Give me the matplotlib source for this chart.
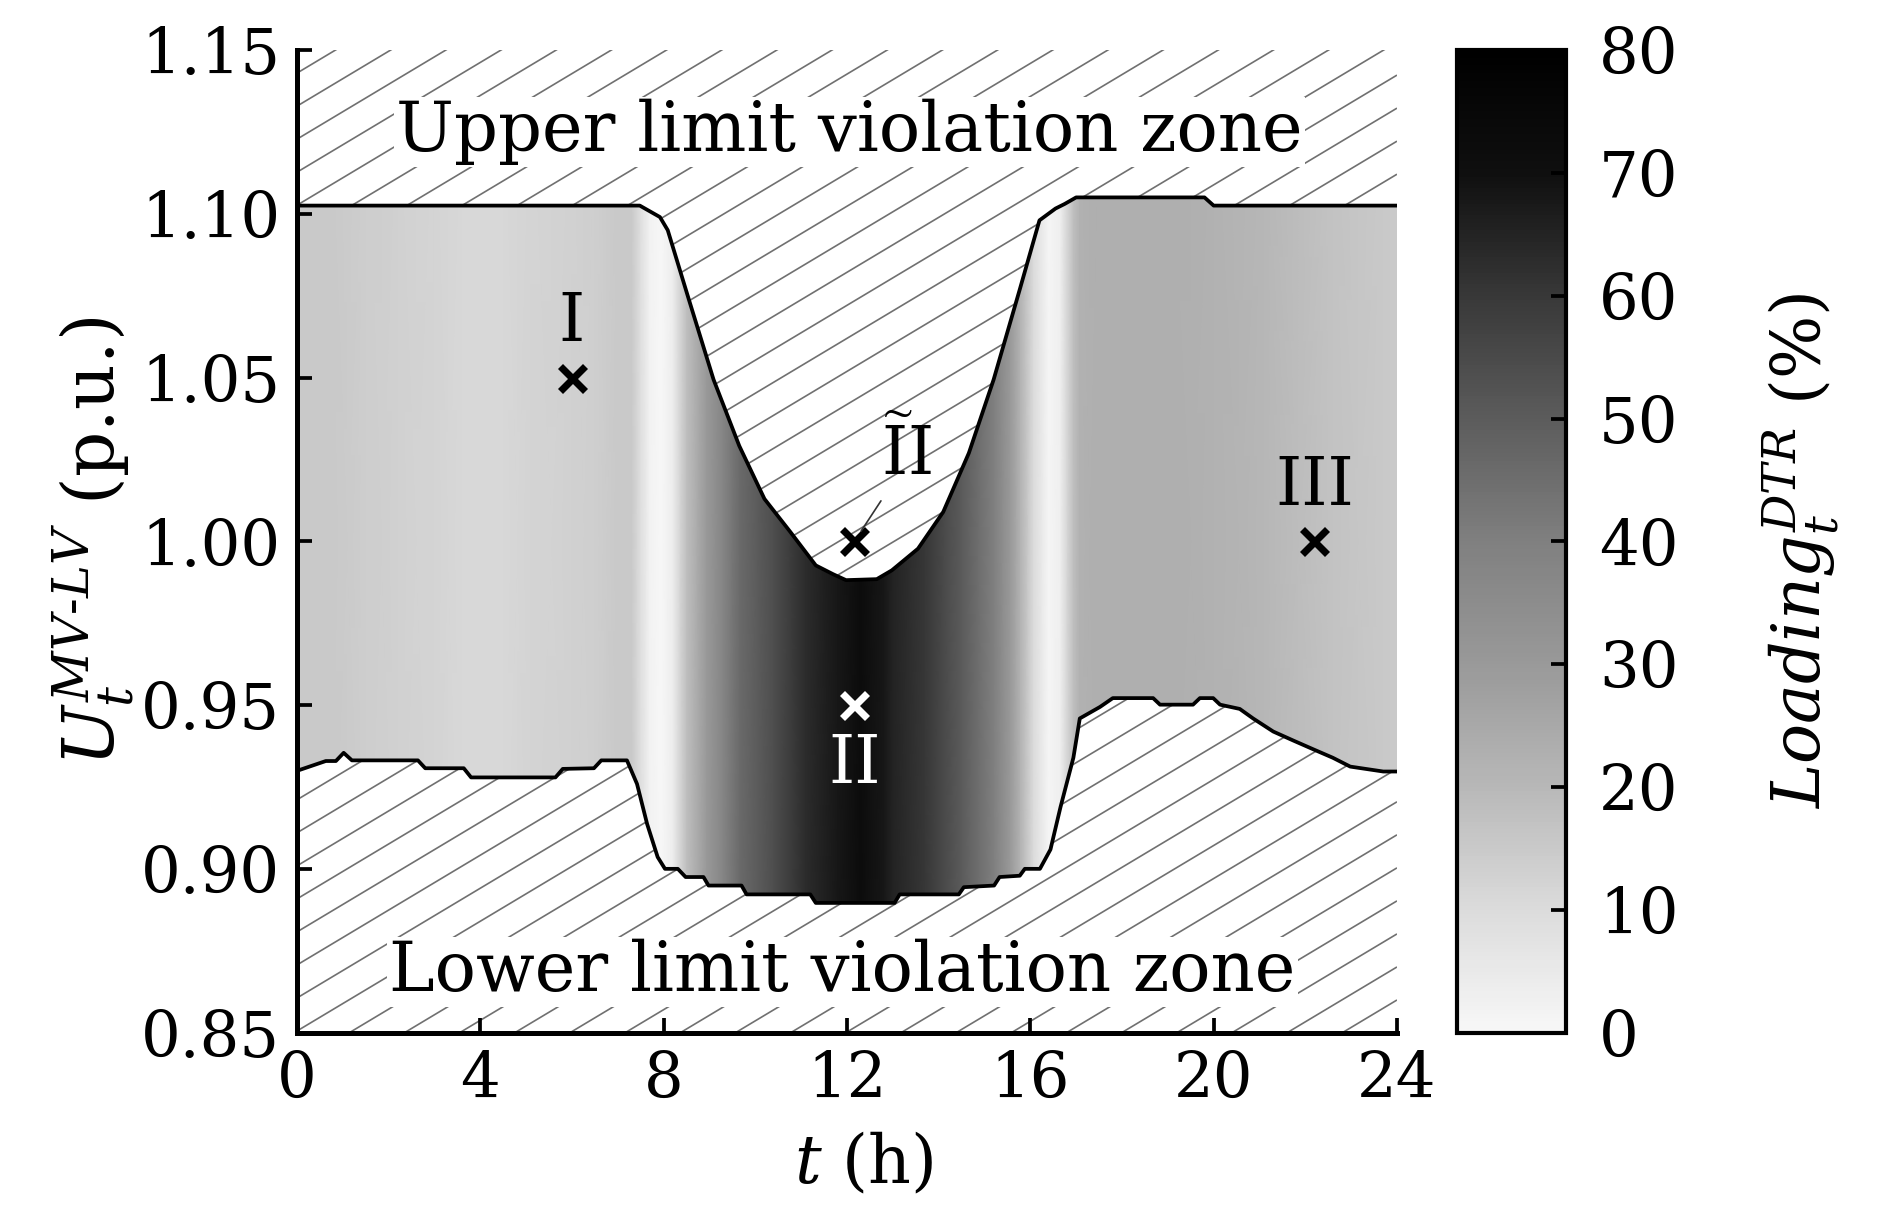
import numpy as np
import matplotlib
matplotlib.use("Agg")
import matplotlib.pyplot as plt
from matplotlib.colors import LinearSegmentedColormap
from matplotlib.patches import Polygon
from matplotlib.collections import LineCollection

plt.rcParams['font.family'] = ['DejaVu Serif']
plt.rcParams['mathtext.fontset'] = 'dejavuserif'

# upper voltage limit of the feasible band (p.u.)
upper_t = [0, 7.2, 7.48, 7.92, 8.09, 8.53, 9.09, 9.65, 10.2, 10.76, 11.32, 11.7, 11.98,
           12.65, 12.98, 13.55, 14.1, 14.66, 15.2, 15.77, 16.2, 16.55, 16.75, 17.0, 19.8, 20.0, 24]
upper_v = [1.1025, 1.1025, 1.1025, 1.099, 1.095, 1.0748, 1.0494, 1.0292, 1.013, 1.003, 0.9927, 0.990, 0.9882,
           0.9885, 0.9912, 0.9978, 1.009, 1.027, 1.0494, 1.0769, 1.098, 1.1016, 1.103, 1.105, 1.105, 1.1025, 1.1025]

# lower voltage limit of the feasible band (p.u.)
lower_t = [0, 0.63, 0.85, 1.02, 1.2, 1.3, 2.64, 2.8, 3.64, 3.8, 5.64, 5.8, 6.48, 6.64,
           7.2, 7.42, 7.64, 7.87, 8.03, 8.31, 8.48, 8.87, 8.98, 9.7, 9.81, 11.2, 11.32, 13.04,
           13.15, 14.44, 14.55, 15.21, 15.33, 15.77, 15.88, 16.21, 16.44, 16.66, 16.94, 17.08,
           17.52, 17.8, 18.68, 18.83, 19.55, 19.7, 19.99, 20.14, 20.57, 20.86, 21.3, 21.73,
           22.17, 22.6, 22.98, 23.7, 24]
lower_v = [0.930, 0.933, 0.933, 0.9355, 0.9332, 0.9332, 0.9332, 0.9308, 0.9308, 0.928, 0.928, 0.9306, 0.9308, 0.9332,
           0.9332, 0.926, 0.9138, 0.9037, 0.9001, 0.9001, 0.8976, 0.8976, 0.895, 0.895, 0.8923, 0.8923, 0.8897, 0.8897,
           0.8923, 0.8923, 0.8945, 0.895, 0.8976, 0.898, 0.9001, 0.9001, 0.906, 0.919, 0.934, 0.946,
           0.9495, 0.9522, 0.9522, 0.9502, 0.9502, 0.9522, 0.9522, 0.9502, 0.9489, 0.946, 0.942, 0.9393,
           0.9366, 0.934, 0.9313, 0.9298, 0.9298]

# DTR loading (%) along the day
load_t = [0.0, 0.7, 1.5, 2.2, 3.0, 3.6, 4.5, 5.1, 6.0, 6.5, 7.0, 7.3, 7.5, 7.7, 7.95, 8.2, 8.5,
          8.94, 9.3, 9.67, 10.4, 11.1, 11.8, 12.3, 12.8, 13.0, 13.7, 14.5, 15.2, 15.56, 15.78,
          16.07, 16.4, 16.65, 16.94, 17.08, 17.5, 19.0, 20.0, 21.1, 22.6, 23.7, 24.0]
load_v = [15, 15, 14, 13, 12, 11, 11, 12, 13, 13.5, 15, 15, 9, 2, 0, 4, 18,
          30, 38, 46, 54, 63, 68, 72, 68, 65, 60, 50, 40, 30, 22,
          10, 1, 3, 18, 22, 23, 23, 22, 20, 17, 15, 15]

# operating points
pts_t = [6.0, 12.16, 12.16, 22.2]
pts_v = [1.05, 1.00, 0.95, 1.00]
pts_c = ['black', 'black', 'white', 'black']

cbar_ticks = [0, 10, 20, 30, 40, 50, 60, 70, 80]

cmap = LinearSegmentedColormap.from_list(
    "load_gray",
    [(0.0, (0.97, 0.97, 0.97)), (0.125, (0.86, 0.86, 0.86)), (0.25, (0.72, 0.72, 0.72)),
     (0.375, (0.60, 0.60, 0.60)), (0.5, (0.50, 0.50, 0.50)), (0.625, (0.36, 0.36, 0.36)),
     (0.75, (0.22, 0.22, 0.22)), (0.875, (0.06, 0.06, 0.06)), (1.0, (0.0, 0.0, 0.0))])

fig = plt.figure(figsize=(6.28, 4.09), dpi=300)
ax = fig.add_axes([0.1576, 0.1581, 0.5839, 0.8012])
cax = fig.add_axes([0.7736, 0.1581, 0.0574, 0.8012])

ymin, ymax = 0.85, 1.15


def hatch_zone(zone, slope=0.67, step=0.0336, color='#707070', lw=0.4):
    # slanted hatch texture (axes-fraction units), clipped to a filled zone
    segs = [[(0, c), (1, c + slope)] for c in np.arange(-slope, 1 + step, step)]
    lc = LineCollection(segs, colors=color, linewidths=lw, transform=ax.transAxes, zorder=1)
    ax.add_collection(lc)
    lc.set_clip_path(zone.get_paths()[0], ax.transData)


# loading shading, clipped to the feasible band
band = np.vstack([np.column_stack([upper_t, upper_v]),
                  np.column_stack([lower_t, lower_v])[::-1]])
band_patch = Polygon(band, closed=True, facecolor='none', edgecolor='none')
ax.add_patch(band_patch)
mesh = ax.pcolormesh(load_t, [ymin, ymax], np.vstack([load_v, load_v]),
                     shading='gouraud', cmap=cmap, vmin=0, vmax=80, zorder=1)
mesh.set_clip_path(band_patch)

# violation zones
up_zone = ax.fill_between(upper_t, upper_v, ymax, facecolor='none', linewidth=0)
lo_zone = ax.fill_between(lower_t, ymin, lower_v, facecolor='none', linewidth=0)
hatch_zone(up_zone)
hatch_zone(lo_zone)
ax.plot(upper_t, upper_v, color='black', lw=0.9, zorder=3)
ax.plot(lower_t, lower_v, color='black', lw=0.9, zorder=3)

for t, v, c in zip(pts_t, pts_v, pts_c):
    ax.plot(t, v, marker='x', ms=6, mew=1.7, color=c, zorder=4)

ax.text(6.0, 1.057, 'I', ha='center', va='bottom', fontsize=16, zorder=5)
ax.text(22.2, 1.007, 'III', ha='center', va='bottom', fontsize=16, zorder=5)
ax.text(12.16, 0.942, 'II', ha='center', va='top', fontsize=16, color='white', zorder=5)
ax.annotate(r'$\widetilde{\mathrm{I}}\mathrm{I}$', xy=(12.16, 1.0), xytext=(13.3, 1.016),
            ha='center', va='bottom', fontsize=16, zorder=5,
            arrowprops=dict(arrowstyle='-', lw=0.4, color='#333333', shrinkA=1, shrinkB=3,
                            relpos=(0.15, 0.0)))

ax.text(12.05, 1.125, 'Upper limit violation zone', ha='center', va='center', fontsize=16.5,
        zorder=5, bbox=dict(facecolor='white', edgecolor='none', pad=0.5))
ax.text(11.9, 0.8686, 'Lower limit violation zone', ha='center', va='center', fontsize=16.5,
        zorder=5, bbox=dict(facecolor='white', edgecolor='none', pad=0.5))

ax.set_xlim(0, 24)
ax.set_ylim(ymin, ymax)
ax.set_xticks(range(0, 25, 4))
ax.set_yticks([0.85, 0.90, 0.95, 1.00, 1.05, 1.10, 1.15])
ax.set_yticklabels(['0.85', '0.90', '0.95', '1.00', '1.05', '1.10', '1.15'])
ax.tick_params(direction='in', length=3.5, width=0.9, labelsize=15, pad=4)
for s in ['top', 'right']:
    ax.spines[s].set_visible(False)
for s in ['left', 'bottom']:
    ax.spines[s].set_linewidth(1.2)

ax.set_xlabel(r'$t$ (h)', fontsize=16)
ax.xaxis.set_label_coords(0.515, -0.10)
ax.set_ylabel(r'$U_t^{MV\text{-}LV}$ (p.u.)', fontsize=17)
ax.yaxis.set_label_coords(-0.145, 0.5)

cb = fig.colorbar(mesh, cax=cax, ticks=cbar_ticks)
cb.outline.set_linewidth(1.0)
cax.tick_params(direction='in', length=3.5, width=0.9, labelsize=15, pad=8)
cb.set_label(r'$Loading_t^{DTR}$ (%)', fontsize=16)
cax.yaxis.set_label_coords(2.8, 0.49)

fig.savefig('out.png', dpi=300)
